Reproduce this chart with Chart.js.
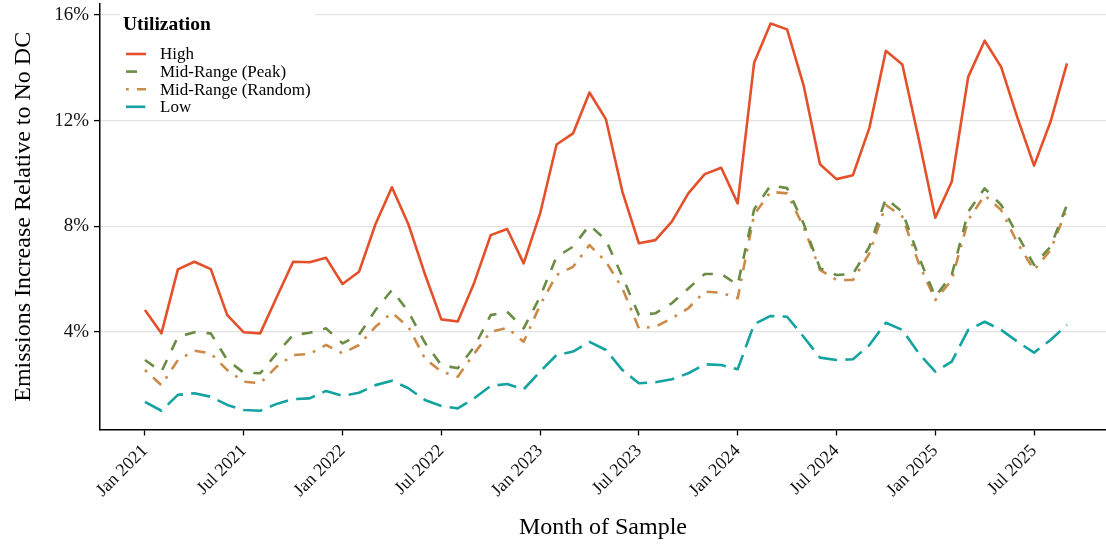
<!DOCTYPE html>
<html>
<head>
<meta charset="utf-8">
<title>Emissions increase by utilization</title>
<script src="https://cdn.jsdelivr.net/npm/chart.js@4.4.1/dist/chart.umd.min.js"></script>
<style>
  html, body { margin: 0; padding: 0; background: #ffffff; }
  #wrap { width: 1106px; height: 548px; }
</style>
</head>
<body>
<div id="wrap"><canvas id="c" width="1106" height="548"></canvas></div>
<script>
// Monthly samples, Jan 2021 – Sep 2025
const months = [
  'Jan 2021','Feb 2021','Mar 2021','Apr 2021','May 2021','Jun 2021','Jul 2021','Aug 2021','Sep 2021','Oct 2021','Nov 2021','Dec 2021',
  'Jan 2022','Feb 2022','Mar 2022','Apr 2022','May 2022','Jun 2022','Jul 2022','Aug 2022','Sep 2022','Oct 2022','Nov 2022','Dec 2022',
  'Jan 2023','Feb 2023','Mar 2023','Apr 2023','May 2023','Jun 2023','Jul 2023','Aug 2023','Sep 2023','Oct 2023','Nov 2023','Dec 2023',
  'Jan 2024','Feb 2024','Mar 2024','Apr 2024','May 2024','Jun 2024','Jul 2024','Aug 2024','Sep 2024','Oct 2024','Nov 2024','Dec 2024',
  'Jan 2025','Feb 2025','Mar 2025','Apr 2025','May 2025','Jun 2025','Jul 2025','Aug 2025','Sep 2025'
];

// Emissions increase relative to no data centre (%)
const high = [
  4.83, 3.95, 6.37, 6.66, 6.38, 4.64, 3.99, 3.95, 5.32, 6.66, 6.64, 6.81,
  5.82, 6.28, 8.08, 9.48, 8.08, 6.20, 4.48, 4.40, 5.87, 7.67, 7.90, 6.60,
  8.49, 11.10, 11.52, 13.07, 12.05, 9.31, 7.36, 7.48, 8.18, 9.25, 9.98, 10.22,
  8.87, 14.20, 15.68, 15.46, 13.35, 10.35, 9.79, 9.94, 11.73, 14.65, 14.13, 11.30,
  8.33, 9.69, 13.66, 15.03, 14.04, 12.10, 10.30, 11.96, 14.17
];
const midPeak = [
  2.94, 2.50, 3.82, 3.99, 3.95, 2.94, 2.46, 2.44, 3.19, 3.89, 3.97, 4.14,
  3.57, 3.89, 4.83, 5.59, 4.77, 3.60, 2.75, 2.63, 3.44, 4.64, 4.77, 4.14,
  5.34, 6.85, 7.23, 8.05, 7.48, 6.09, 4.64, 4.71, 5.09, 5.65, 6.20, 6.20,
  5.78, 8.65, 9.55, 9.45, 8.11, 6.41, 6.16, 6.20, 7.23, 9.06, 8.55, 6.85,
  5.34, 6.16, 8.55, 9.44, 8.81, 7.67, 6.54, 7.23, 8.81
];
const midRandom = [
  2.56, 1.99, 2.94, 3.29, 3.19, 2.56, 2.12, 2.06, 2.69, 3.13, 3.17, 3.51,
  3.19, 3.51, 4.20, 4.73, 4.20, 3.00, 2.50, 2.31, 3.19, 4.01, 4.16, 3.63,
  5.02, 6.16, 6.47, 7.29, 6.66, 5.65, 4.14, 4.20, 4.52, 4.90, 5.53, 5.49,
  5.28, 8.45, 9.31, 9.25, 7.99, 6.35, 5.97, 5.97, 6.98, 8.81, 8.37, 6.60,
  5.21, 5.97, 8.24, 9.18, 8.62, 7.36, 6.35, 7.10, 8.68
];
const low = [
  1.36, 1.02, 1.62, 1.68, 1.55, 1.24, 1.05, 1.02, 1.28, 1.46, 1.49, 1.77,
  1.58, 1.70, 1.99, 2.16, 1.87, 1.43, 1.20, 1.11, 1.49, 1.96, 2.03, 1.83,
  2.50, 3.13, 3.26, 3.63, 3.32, 2.56, 2.06, 2.10, 2.21, 2.44, 2.78, 2.75,
  2.59, 4.30, 4.61, 4.58, 3.82, 3.03, 2.94, 2.97, 3.51, 4.35, 4.08, 3.19,
  2.50, 2.88, 4.08, 4.39, 4.08, 3.63, 3.22, 3.70, 4.27
];

const seriesNames = ['High', 'Mid-Range (Peak)', 'Mid-Range (Random)', 'Low'];
const xTickLabels = ['Jan 2021','Jul 2021','Jan 2022','Jul 2022','Jan 2023','Jul 2023','Jan 2024','Jul 2024','Jan 2025','Jul 2025'];
const yTickValues = [4, 8, 12, 16];

const SERIF = "'Liberation Serif', 'Times New Roman', serif";
const LW = 2.6;   // line width in px
const U = 2.75;   // dash unit

const toPoints = arr => arr.map((v, i) => ({ x: i, y: v }));

const styles = [
  { color: '#E4502A', dash: [] },
  { color: '#6A8C45', dash: [4 * U, 4 * U] },
  { color: '#CC8A48', dash: [1 * U, 3 * U, 4 * U, 3 * U] },
  { color: '#14A3A1', dash: [7 * U, 3 * U] }
];
const values = [high, midPeak, midRandom, low];

const datasets = values.map((arr, k) => ({
  label: seriesNames[k],
  data: toPoints(arr),
  borderColor: styles[k].color,
  backgroundColor: styles[k].color,
  borderWidth: LW,
  borderDash: styles[k].dash,
  borderCapStyle: 'butt',
  borderJoinStyle: 'round',
  pointRadius: 0,
  pointHoverRadius: 0,
  tension: 0,
  fill: false
}));

// Legend drawn inside the plot, top-left, with a white key background
const insideLegend = {
  id: 'insideLegend',
  afterDraw(chart) {
    const ctx = chart.ctx;
    ctx.save();
    ctx.fillStyle = '#ffffff';
    ctx.fillRect(120, 5, 195, 109);
    ctx.fillStyle = '#000000';
    ctx.textBaseline = 'middle';
    ctx.textAlign = 'left';
    ctx.font = 'bold 19.5px ' + SERIF;
    ctx.fillText('Utilization', 123, 25);
    ctx.font = '17px ' + SERIF;
    chart.data.datasets.forEach((ds, k) => {
      const y = 54 + k * 17.6;
      ctx.save();
      ctx.strokeStyle = ds.borderColor;
      ctx.lineWidth = LW;
      ctx.lineCap = 'butt';
      ctx.setLineDash(ds.borderDash);
      ctx.beginPath();
      ctx.moveTo(126, y);
      ctx.lineTo(146, y);
      ctx.stroke();
      ctx.restore();
      ctx.fillStyle = '#000000';
      ctx.fillText(ds.label, 160, y + 1);
    });
    ctx.restore();
  }
};

new Chart(document.getElementById('c'), {
  type: 'line',
  data: { datasets },
  plugins: [insideLegend],
  options: {
    responsive: false,
    devicePixelRatio: 1,
    animation: false,
    events: [],
    layout: { padding: { top: 4, right: 0, bottom: 0, left: 0 } },
    plugins: { legend: { display: false }, tooltip: { enabled: false } },
    scales: {
      x: {
        type: 'linear',
        min: -2.73,
        max: 58.37,
        afterFit(scale) {
          scale.height = 118.5;
          scale.paddingLeft = 0;
          scale.paddingRight = 0;
        },
        afterBuildTicks(scale) {
          scale.ticks = xTickLabels.map(l => ({ value: months.indexOf(l) }));
        },
        ticks: {
          autoSkip: false,
          maxRotation: 45,
          minRotation: 45,
          padding: 5,
          color: '#111111',
          font: { family: SERIF, size: 18 },
          callback: (v) => months[v]
        },
        grid: {
          display: true,
          drawOnChartArea: false,
          drawTicks: true,
          tickLength: 6,
          tickColor: '#000000',
          tickWidth: 1.3
        },
        border: { display: true, color: '#000000', width: 1.5 },
        title: {
          display: true,
          text: 'Month of Sample',
          color: '#000000',
          font: { family: SERIF, size: 24 },
          padding: { top: 0, bottom: 6 }
        }
      },
      y: {
        type: 'linear',
        min: 0.31,
        max: 16.42,
        afterFit(scale) {
          scale.width = 100;
          scale.paddingTop = 0;
          scale.paddingBottom = 0;
        },
        afterBuildTicks(scale) {
          scale.ticks = yTickValues.map(v => ({ value: v }));
        },
        ticks: {
          padding: 5,
          color: '#111111',
          font: { family: SERIF, size: 19 },
          callback: (v) => v + '%'
        },
        grid: {
          display: true,
          drawOnChartArea: true,
          color: '#E3E3E3',
          lineWidth: 1.2,
          drawTicks: true,
          tickLength: 6,
          tickColor: '#000000',
          tickWidth: 1.3
        },
        border: { display: true, color: '#000000', width: 1.5 },
        title: {
          display: true,
          text: 'Emissions Increase Relative to No DC',
          color: '#000000',
          font: { family: SERIF, size: 24 },
          padding: { top: 9, bottom: 0 }
        }
      }
    }
  }
});
</script>
</body>
</html>
